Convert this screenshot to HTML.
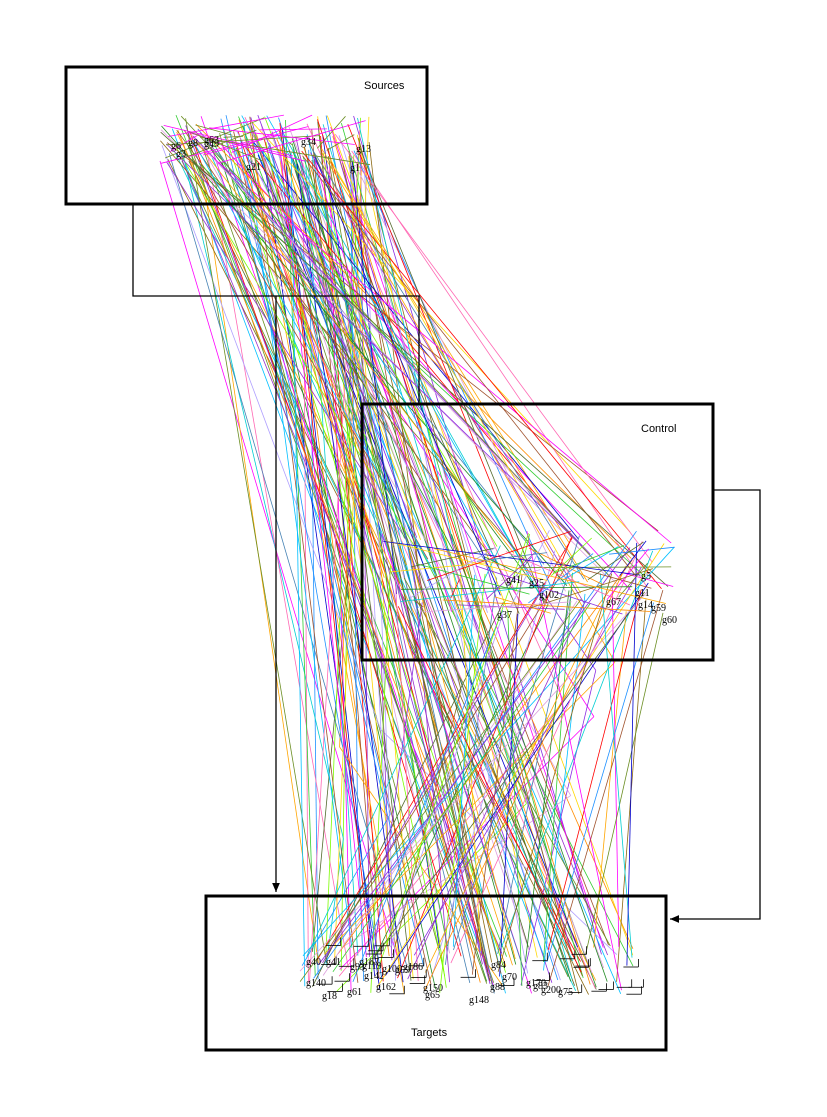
<!DOCTYPE html>
<html><head><meta charset="utf-8"><style>
html,body{margin:0;padding:0;background:#fff;}
svg{display:block;}
text{font-family:"Liberation Sans",sans-serif;}
.g{font-family:"Liberation Serif",serif;font-size:10px;fill:#000;}
</style></head><body>
<svg id="s" width="827" height="1117" viewBox="0 0 827 1117" xmlns="http://www.w3.org/2000/svg">
<defs><marker id="a" markerWidth="8" markerHeight="8" refX="7" refY="4" orient="auto"><path d="M0,1 L7,4 L0,7 z" fill="#000"/></marker></defs>
<g id="lines"></g>
<rect x="66" y="67" width="361" height="137" fill="none" stroke="#000" stroke-width="3"/>
<rect x="362" y="404" width="351" height="256" fill="none" stroke="#000" stroke-width="3"/>
<rect x="206" y="896" width="460" height="154" fill="none" stroke="#000" stroke-width="3"/>
<polyline points="133,204 133,296 419,296 419,404" fill="none" stroke="#000" stroke-width="1.3"/>
<polyline points="276,296 276,892" fill="none" stroke="#000" stroke-width="1.3" marker-end="url(#a)"/>
<polyline points="713,490 760,490 760,919 670,919" fill="none" stroke="#000" stroke-width="1.3" marker-end="url(#a)"/>
<text x="364" y="89" font-size="11">Sources</text>
<text x="641" y="432" font-size="11">Control</text>
<text x="411" y="1036" font-size="11">Targets</text>
<g id="labels"></g>
</svg>
<script>
(function(){
var seed=7;function r(){seed=(seed*16807)%2147483647;return seed/2147483647;}
var cols=["#ff00ff","#8a2be2","#ff8c00","#1e90ff","#7cfc00","#8b6914","#ff0000","#228b22","#00bfff","#ffa500","#9932cc","#6b8e23","#dda0dd","#4682b4","#ffd700","#a0522d","#00ced1","#ff69b4","#556b2f","#b0a0ff","#32cd32","#0000cd"];
var g=document.getElementById("lines"),h="";
function L(x1,y1,x2,y2,c){h+='<line x1="'+x1.toFixed(1)+'" y1="'+y1.toFixed(1)+'" x2="'+x2.toFixed(1)+'" y2="'+y2.toFixed(1)+'" stroke="'+c+'" stroke-width="0.8"/>';}
function S(){return [160+r()*210,115+r()*50];}
function C(){return [380+r()*300,530+r()*85];}
function T(){return [300+r()*335,945+r()*50];}
var i,a,b,c;
for(i=0;i<120;i++){a=S();b=T();c=cols[i%cols.length];
 if(r()<0.2){var m=[320+r()*300,500+r()*340];L(a[0],a[1],m[0],m[1],c);L(m[0],m[1],b[0],b[1],c);}else L(a[0],a[1],b[0],b[1],c);}
for(i=0;i<60;i++){a=S();b=C();L(a[0],a[1],b[0],b[1],cols[(i*3)%cols.length]);}
for(i=0;i<60;i++){a=C();b=T();L(a[0],a[1],b[0],b[1],cols[(i*5)%cols.length]);}
for(i=0;i<40;i++){a=C();b=C();L(a[0],a[1],b[0],b[1],cols[(i*7)%cols.length]);}
for(i=0;i<20;i++){a=S();b=S();L(a[0],a[1],b[0],b[1],cols[(i*11)%cols.length]);}
for(i=0;i<30;i++){a=T();L(a[0],a[1],a[0]+15,a[1],"#000");L(a[0]+15,a[1],a[0]+15,a[1]-8,"#000");}
g.innerHTML=h;
var lb="",names=["g150","g83","g100","g162","g41","g140","g84","g70","g167","g61","g148","g200","g93","g119","g65","g142","g170","g18","g59","g186","g88","g75","g40"];
for(i=0;i<names.length;i++){lb+='<text class="g" x="'+(295+r()*330).toFixed(0)+'" y="'+(960+r()*46).toFixed(0)+'">'+names[i]+'</text>';}
var cn=["g41","g59","g37","g60","g14","g67","g11","g5","g25","g102"];
for(i=0;i<cn.length;i++){lb+='<text class="g" x="'+(470+r()*200).toFixed(0)+'" y="'+(570+r()*55).toFixed(0)+'">'+cn[i]+'</text>';}
var sn=["g63","g49","g34","g21","g8","g1","g13","g3","g6"];
for(i=0;i<sn.length;i++){lb+='<text class="g" x="'+(140+r()*220).toFixed(0)+'" y="'+(140+r()*35).toFixed(0)+'">'+sn[i]+'</text>';}
document.getElementById("labels").innerHTML=lb;
})();
</script>
</body></html>
